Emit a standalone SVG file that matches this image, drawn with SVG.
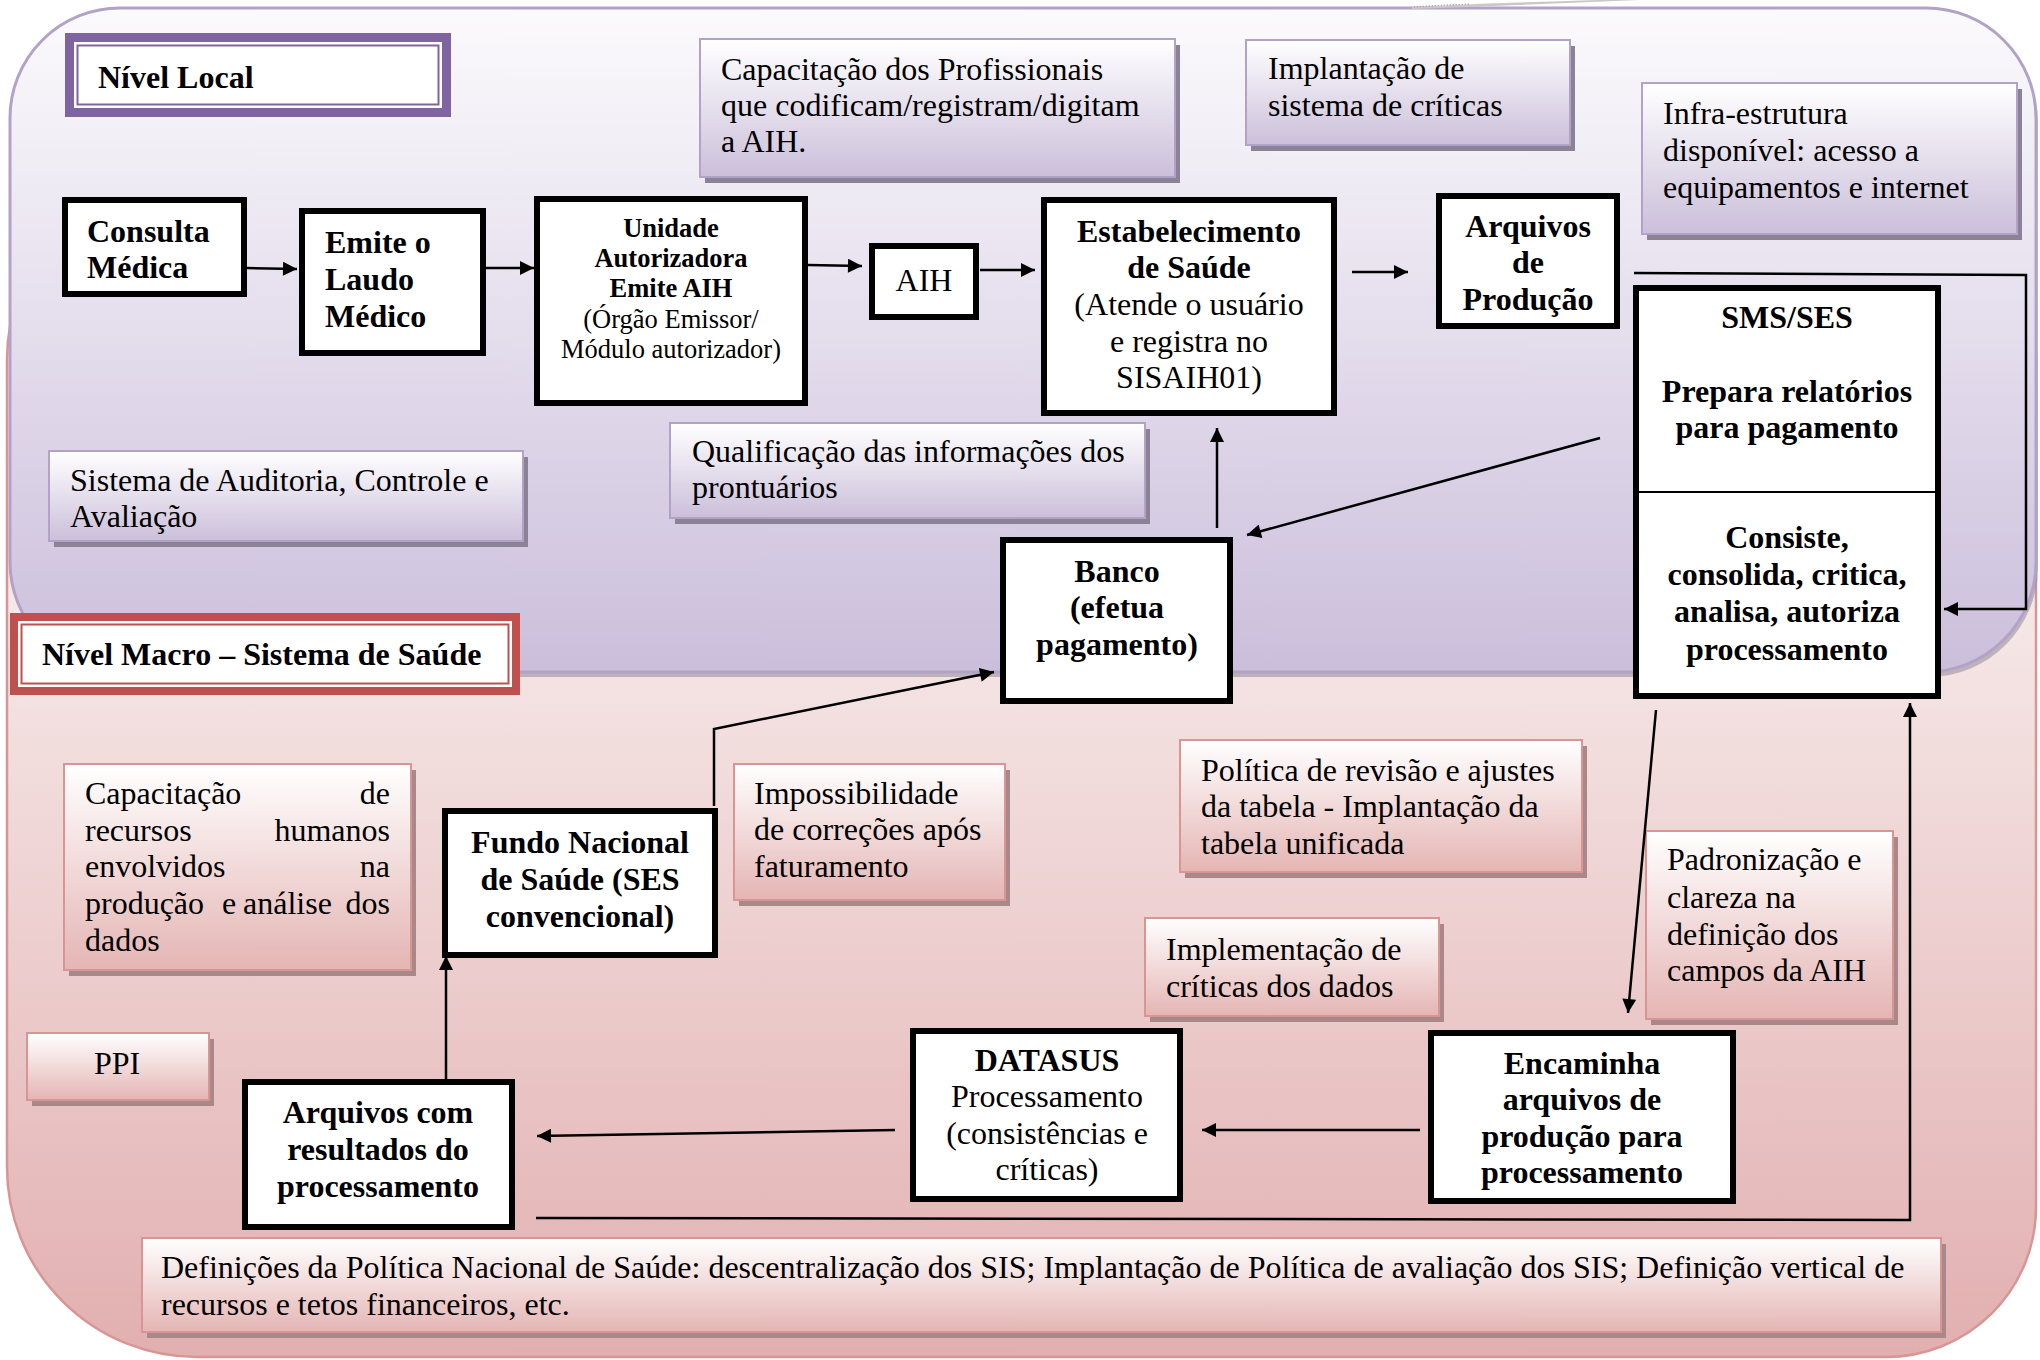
<svg xmlns="http://www.w3.org/2000/svg" width="2040" height="1360" viewBox="0 0 2040 1360">
  <defs>
    <linearGradient id="gLocal" x1="0" y1="8" x2="0" y2="672" gradientUnits="userSpaceOnUse">
      <stop offset="0" stop-color="#fbfafc"/>
      <stop offset="0.45" stop-color="#e6e0ee"/>
      <stop offset="1" stop-color="#cbbedb"/>
    </linearGradient>
    <linearGradient id="gMacro" x1="0" y1="600" x2="0" y2="1357" gradientUnits="userSpaceOnUse">
      <stop offset="0" stop-color="#f6e8e8"/>
      <stop offset="1" stop-color="#e2afb0"/>
    </linearGradient>
    <linearGradient id="gNoteP" x1="0" y1="0" x2="0" y2="1">
      <stop offset="0" stop-color="#ffffff"/>
      <stop offset="1" stop-color="#cbbfda"/>
    </linearGradient>
    <linearGradient id="gNoteR" x1="0" y1="0" x2="0" y2="1">
      <stop offset="0" stop-color="#ffffff"/>
      <stop offset="1" stop-color="#e4b5b4"/>
    </linearGradient>
    <marker id="ah" viewBox="0 0 10 10" refX="10" refY="5" markerWidth="17" markerHeight="14" markerUnits="userSpaceOnUse" orient="auto">
      <path d="M0,0 L10,5 L0,10 z" fill="#000"/>
    </marker>
    <style>
      text { font-family: "Liberation Serif", "Times New Roman", serif; fill: #000; }
      .b { font-weight: bold; font-size: 32px; }
      .r { font-size: 32px; }
      .s { font-size: 26.5px; }
      .sb { font-size: 26.5px; font-weight: bold; }
      .n { font-size: 32px; }
      .c { text-anchor: middle; }
      .box { fill: #fff; stroke: #000; stroke-width: 6; }
      .noteP { fill: url(#gNoteP); stroke: #b3a2c7; stroke-width: 2; }
      .noteR { fill: url(#gNoteR); stroke: #d99594; stroke-width: 2; }
      .shP { fill: #8c8296; }
      .shR { fill: #a88888; }
      .conn { fill: none; stroke: #000; stroke-width: 2.5; }
    </style>
  </defs>

  <!-- background areas -->
  <g id="areas">
    <path d="M7,1167 L7,360 A190,190 0 0 1 197,170 L1846,170 A190,190 0 0 1 2036,360 L2036,1207 A150,150 0 0 1 1886,1357 L197,1357 A190,190 0 0 1 7,1167 Z" fill="url(#gMacro)" stroke="#d99594" stroke-width="2.5"/>
    <rect x="14" y="13" width="2024" height="664" rx="110" ry="110" fill="#8f8a96" opacity="0.55"/>
    <rect x="10" y="8" width="2026" height="664" rx="110" ry="110" fill="url(#gLocal)" stroke="#b3a2c7" stroke-width="3"/>
    <path d="M1412,7 Q1490,3 1600,0 L1640,0 Q1520,5 1412,9 Z" fill="#c9c9c9"/>
    <path d="M1414,7 Q1440,5 1470,4" fill="none" stroke="#777" stroke-width="1" stroke-dasharray="1,2"/>
  </g>

  <!-- level titles -->
  <g id="nivel-local">
    <rect x="65" y="33" width="386" height="84" fill="#8064a2"/>
    <rect x="74" y="42" width="368" height="66" fill="#fff"/>
    <rect x="77.5" y="45.5" width="361" height="59" fill="#fff" stroke="#8064a2" stroke-width="2"/>
    <text class="b" x="98" y="88">Nível Local</text>
  </g>
  <g id="nivel-macro">
    <rect x="10" y="613" width="510" height="82" fill="#c0504d"/>
    <rect x="18" y="621" width="494" height="66" fill="#fff"/>
    <rect x="21.5" y="624.5" width="487" height="59" fill="#fff" stroke="#c0504d" stroke-width="2"/>
    <text class="b" x="42" y="665">Nível Macro – Sistema de Saúde</text>
  </g>

  <!-- annotation notes, local level -->
  <g id="note-capacitacao-prof">
    <rect class="shP" x="705" y="45" width="475" height="138"/>
    <rect class="noteP" x="700" y="39" width="475" height="138"/>
    <text class="n" x="721" y="80">Capacitação dos Profissionais</text>
    <text class="n" x="721" y="116">que codificam/registram/digitam</text>
    <text class="n" x="721" y="152">a AIH.</text>
  </g>
  <g id="note-implantacao">
    <rect class="shP" x="1251" y="46" width="324" height="105"/>
    <rect class="noteP" x="1246" y="40" width="324" height="105"/>
    <text class="n" x="1268" y="79">Implantação de</text>
    <text class="n" x="1268" y="116">sistema de críticas</text>
  </g>
  <g id="note-infra">
    <rect class="shP" x="1647" y="89" width="375" height="151"/>
    <rect class="noteP" x="1642" y="83" width="375" height="151"/>
    <text class="n" x="1663" y="124">Infra-estrutura</text>
    <text class="n" x="1663" y="161">disponível: acesso a</text>
    <text class="n" x="1663" y="198">equipamentos e internet</text>
  </g>
  <g id="note-auditoria">
    <rect class="shP" x="54" y="457" width="474" height="90"/>
    <rect class="noteP" x="49" y="451" width="474" height="90"/>
    <text class="n" x="70" y="491">Sistema de Auditoria, Controle e</text>
    <text class="n" x="70" y="527">Avaliação</text>
  </g>
  <g id="note-qualificacao">
    <rect class="shP" x="675" y="429" width="475" height="95"/>
    <rect class="noteP" x="670" y="423" width="475" height="95"/>
    <text class="n" x="692" y="462">Qualificação das informações dos</text>
    <text class="n" x="692" y="498">prontuários</text>
  </g>

  <!-- annotation notes, macro level -->
  <g id="note-capacitacao-rh">
    <rect class="shR" x="69" y="770" width="347" height="206"/>
    <rect class="noteR" x="64" y="764" width="347" height="206"/>
    <text class="n" x="85" y="804">Capacitação</text>
    <text class="n" x="390" y="804" text-anchor="end">de</text>
    <text class="n" x="85" y="841">recursos</text>
    <text class="n" x="390" y="841" text-anchor="end">humanos</text>
    <text class="n" x="85" y="877">envolvidos</text>
    <text class="n" x="390" y="877" text-anchor="end">na</text>
    <text class="n" x="85" y="914">produção</text>
    <text class="n" x="222" y="914">e</text>
    <text class="n" x="243" y="914">análise</text>
    <text class="n" x="390" y="914" text-anchor="end">dos</text>
    <text class="n" x="85" y="951">dados</text>
  </g>
  <g id="note-impossibilidade">
    <rect class="shR" x="739" y="770" width="271" height="136"/>
    <rect class="noteR" x="734" y="764" width="271" height="136"/>
    <text class="n" x="754" y="804">Impossibilidade</text>
    <text class="n" x="754" y="840">de correções após</text>
    <text class="n" x="754" y="877">faturamento</text>
  </g>
  <g id="note-politica">
    <rect class="shR" x="1185" y="746" width="402" height="132"/>
    <rect class="noteR" x="1180" y="740" width="402" height="132"/>
    <text class="n" x="1201" y="781">Política de revisão e ajustes</text>
    <text class="n" x="1201" y="817">da tabela - Implantação da</text>
    <text class="n" x="1201" y="854">tabela unificada</text>
  </g>
  <g id="note-padronizacao">
    <rect class="shR" x="1651" y="837" width="247" height="188"/>
    <rect class="noteR" x="1646" y="831" width="247" height="188"/>
    <text class="n" x="1667" y="870">Padronização e</text>
    <text class="n" x="1667" y="908">clareza na</text>
    <text class="n" x="1667" y="945">definição dos</text>
    <text class="n" x="1667" y="981">campos da AIH</text>
  </g>
  <g id="note-implementacao">
    <rect class="shR" x="1150" y="924" width="294" height="98"/>
    <rect class="noteR" x="1145" y="918" width="294" height="98"/>
    <text class="n" x="1166" y="960">Implementação de</text>
    <text class="n" x="1166" y="997">críticas dos dados</text>
  </g>
  <g id="note-ppi">
    <rect class="shR" x="32" y="1039" width="182" height="67"/>
    <rect class="noteR" x="27" y="1033" width="182" height="67"/>
    <text class="n c" x="117" y="1074">PPI</text>
  </g>
  <g id="note-definicoes">
    <rect class="shR" x="147" y="1244" width="1799" height="94"/>
    <rect class="noteR" x="142" y="1238" width="1799" height="94"/>
    <text class="n" x="161" y="1278">Definições da Política Nacional de Saúde: descentralização dos SIS; Implantação de Política de avaliação dos SIS; Definição vertical de</text>
    <text class="n" x="161" y="1315">recursos e tetos financeiros, etc.</text>
  </g>

  <!-- connectors -->
  <g id="connectors">
    <path class="conn" d="M247,268 L297,269" marker-end="url(#ah)"/>
    <path class="conn" d="M480,268 L534,268" marker-end="url(#ah)"/>
    <path class="conn" d="M808,265 L862,266" marker-end="url(#ah)"/>
    <path class="conn" d="M980,270 L1035,270" marker-end="url(#ah)"/>
    <path class="conn" d="M1352,272 L1408,272" marker-end="url(#ah)"/>
    <path class="conn" d="M1634,273 L2026,275 L2026,609 L1944,609" marker-end="url(#ah)"/>
    <path class="conn" d="M1600,438 L1247,535" marker-end="url(#ah)"/>
    <path class="conn" d="M1217,528 L1217,428" marker-end="url(#ah)"/>
    <path class="conn" d="M714,806 L714,729 L994,672" marker-end="url(#ah)"/>
    <path class="conn" d="M1656,710 L1628,1013" marker-end="url(#ah)"/>
    <path class="conn" d="M1420,1130 L1202,1130" marker-end="url(#ah)"/>
    <path class="conn" d="M895,1130 L537,1136" marker-end="url(#ah)"/>
    <path class="conn" d="M446,1079 L446,956" marker-end="url(#ah)"/>
    <path class="conn" d="M536,1218 L1910,1220 L1910,703" marker-end="url(#ah)"/>
  </g>

  <!-- process nodes -->
  <g id="consulta">
    <rect class="box" x="65" y="200" width="179" height="94"/>
    <text class="b" x="87" y="242">Consulta</text>
    <text class="b" x="87" y="278">Médica</text>
  </g>
  <g id="laudo">
    <rect class="box" x="302" y="211" width="181" height="142"/>
    <text class="b" x="325" y="253">Emite o</text>
    <text class="b" x="325" y="290">Laudo</text>
    <text class="b" x="325" y="327">Médico</text>
  </g>
  <g id="unidade-autorizadora">
    <rect class="box" x="537" y="199" width="268" height="204"/>
    <text class="sb c" x="671" y="237">Unidade</text>
    <text class="sb c" x="671" y="267">Autorizadora</text>
    <text class="sb c" x="671" y="297">Emite AIH</text>
    <text class="s c" x="671" y="328">(Órgão Emissor/</text>
    <text class="s c" x="671" y="358">Módulo autorizador)</text>
  </g>
  <g id="aih">
    <rect class="box" x="872" y="246" width="104" height="71"/>
    <text class="r c" x="924" y="291">AIH</text>
  </g>
  <g id="estabelecimento">
    <rect class="box" x="1044" y="200" width="290" height="213"/>
    <text class="b c" x="1189" y="242">Estabelecimento</text>
    <text class="b c" x="1189" y="278">de Saúde</text>
    <text class="r c" x="1189" y="315">(Atende o usuário</text>
    <text class="r c" x="1189" y="352">e registra no</text>
    <text class="r c" x="1189" y="388">SISAIH01)</text>
  </g>
  <g id="arquivos-producao">
    <rect class="box" x="1439" y="196" width="178" height="130"/>
    <text class="b c" x="1528" y="237">Arquivos</text>
    <text class="b c" x="1528" y="273">de</text>
    <text class="b c" x="1528" y="310">Produção</text>
  </g>
  <g id="sms-ses">
    <rect class="box" x="1636" y="288" width="302" height="408"/>
    <line x1="1636" y1="492" x2="1938" y2="492" stroke="#000" stroke-width="2"/>
    <text class="b c" x="1787" y="328">SMS/SES</text>
    <text class="b c" x="1787" y="402">Prepara relatórios</text>
    <text class="b c" x="1787" y="438">para pagamento</text>
    <text class="b c" x="1787" y="548">Consiste,</text>
    <text class="b c" x="1787" y="585">consolida, critica,</text>
    <text class="b c" x="1787" y="622">analisa, autoriza</text>
    <text class="b c" x="1787" y="660">processamento</text>
  </g>
  <g id="banco">
    <rect class="box" x="1003" y="540" width="227" height="161"/>
    <text class="b c" x="1117" y="582">Banco</text>
    <text class="b c" x="1117" y="618">(efetua</text>
    <text class="b c" x="1117" y="655">pagamento)</text>
  </g>
  <g id="fundo-nacional">
    <rect class="box" x="445" y="811" width="270" height="144"/>
    <text class="b c" x="580" y="853">Fundo Nacional</text>
    <text class="b c" x="580" y="890">de Saúde (SES</text>
    <text class="b c" x="580" y="927">convencional)</text>
  </g>
  <g id="arquivos-resultados">
    <rect class="box" x="245" y="1082" width="267" height="145"/>
    <text class="b c" x="378" y="1123">Arquivos com</text>
    <text class="b c" x="378" y="1160">resultados do</text>
    <text class="b c" x="378" y="1197">processamento</text>
  </g>
  <g id="datasus">
    <rect class="box" x="913" y="1031" width="267" height="168"/>
    <text class="b c" x="1047" y="1071">DATASUS</text>
    <text class="r c" x="1047" y="1107">Processamento</text>
    <text class="r c" x="1047" y="1144">(consistências e</text>
    <text class="r c" x="1047" y="1180">críticas)</text>
  </g>
  <g id="encaminha">
    <rect class="box" x="1431" y="1033" width="302" height="168"/>
    <text class="b c" x="1582" y="1074">Encaminha</text>
    <text class="b c" x="1582" y="1110">arquivos de</text>
    <text class="b c" x="1582" y="1147">produção para</text>
    <text class="b c" x="1582" y="1183">processamento</text>
  </g>
</svg>
